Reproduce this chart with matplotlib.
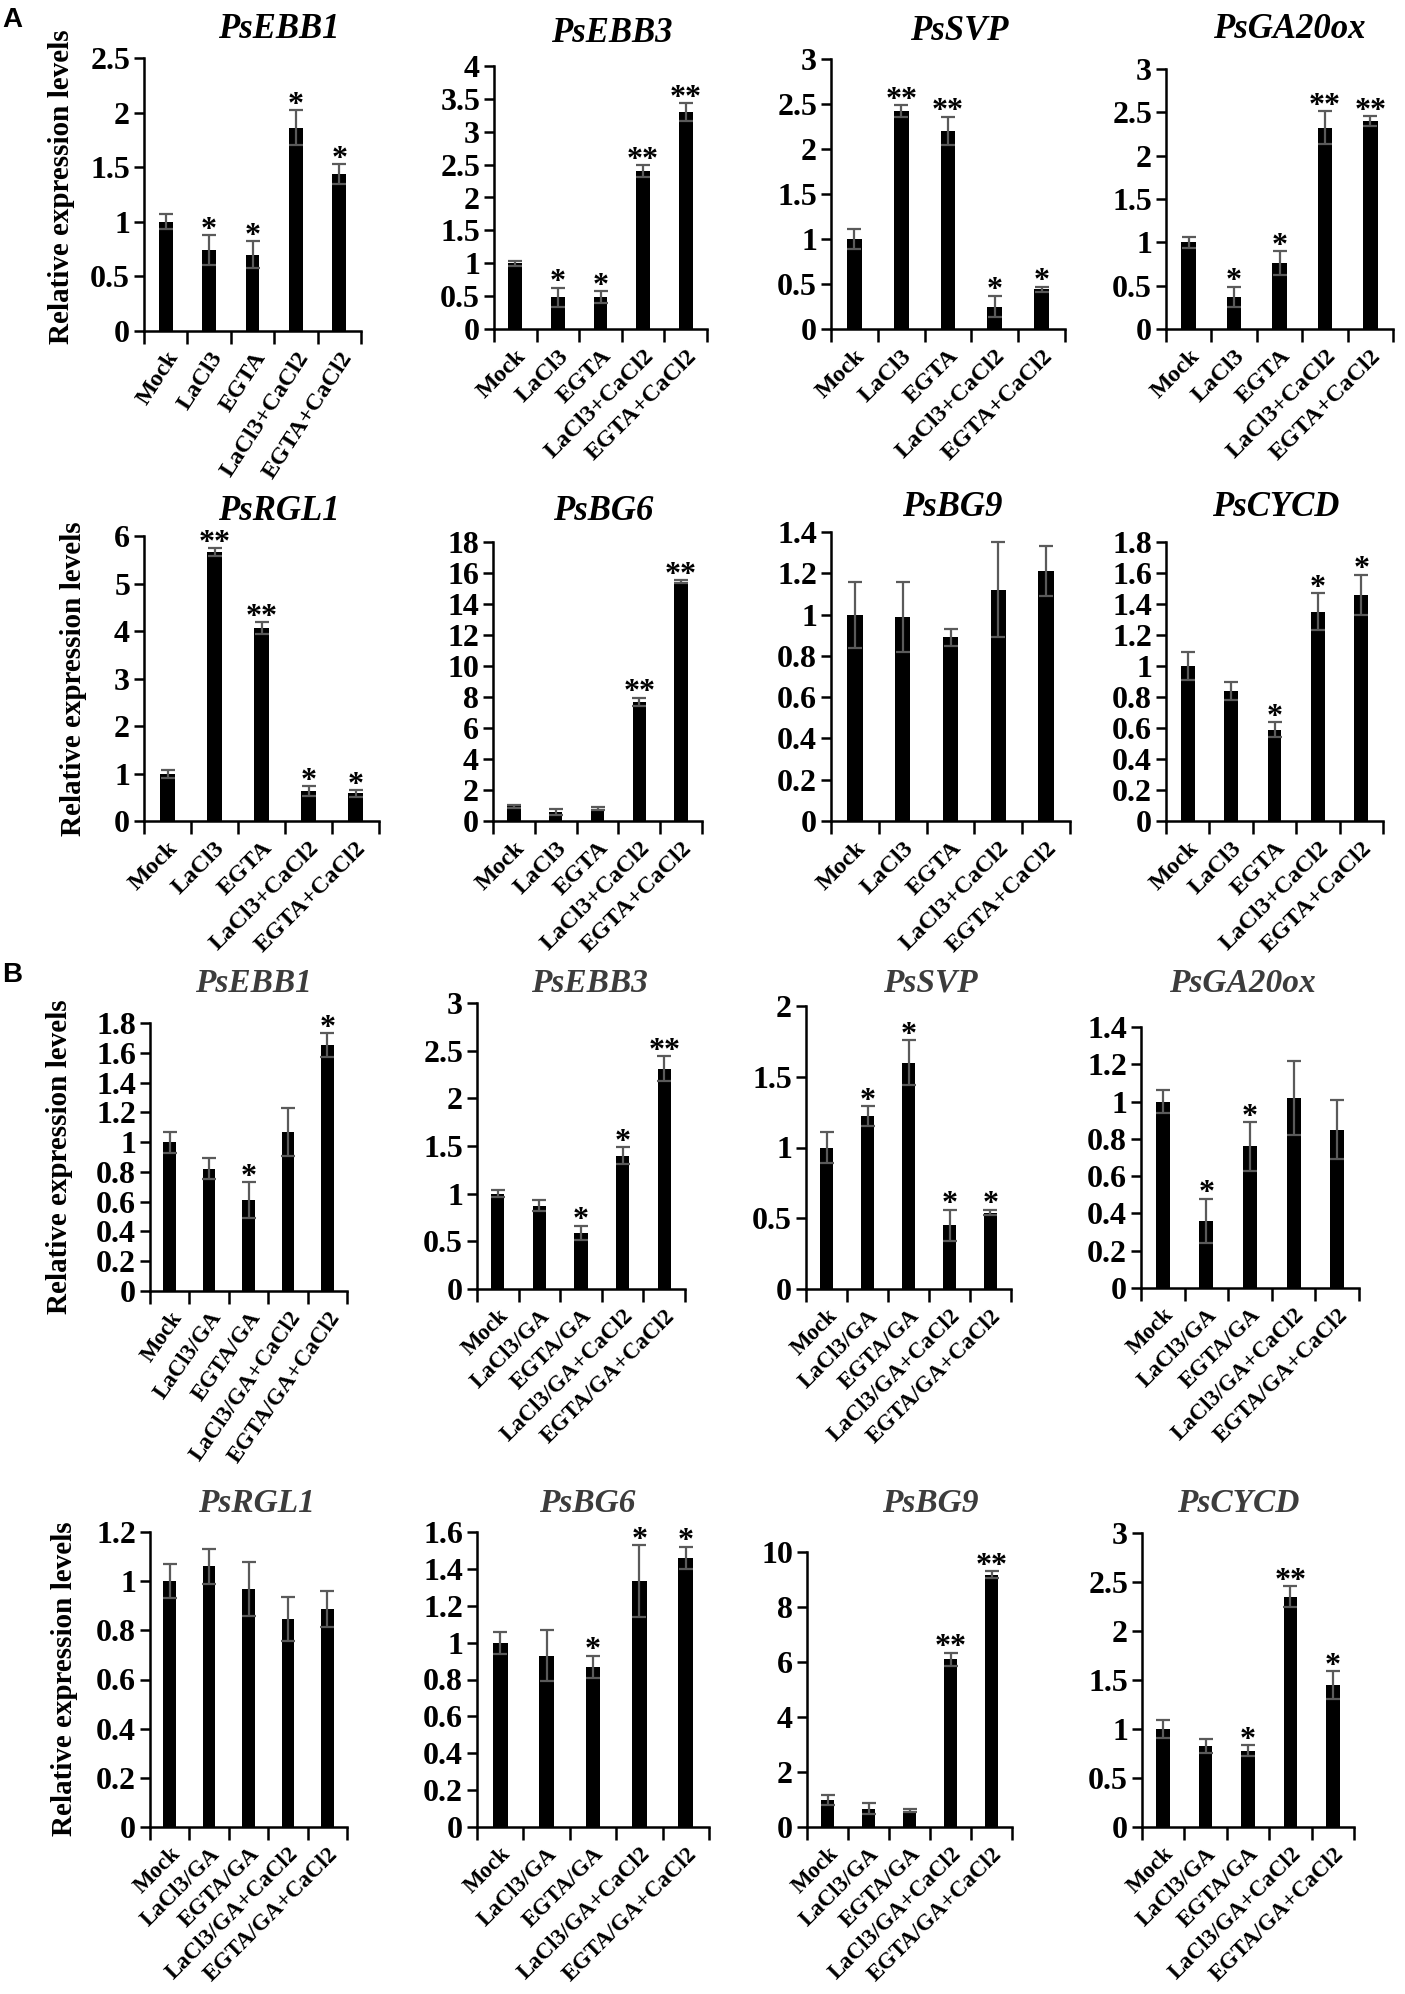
import numpy as np
import matplotlib

matplotlib.use("Agg")
import matplotlib.pyplot as plt

plt.rcParams["font.family"] = ["Liberation Serif", "DejaVu Serif"]
plt.rcParams["font.weight"] = "bold"

GENES = ["PsEBB1", "PsEBB3", "PsSVP", "PsGA20ox", "PsRGL1", "PsBG6", "PsBG9", "PsCYCD"]
A_LABELS = ["Mock", "LaCl3", "EGTA", "LaCl3+CaCl2", "EGTA+CaCl2"]
B_LABELS = ["Mock", "LaCl3/GA", "EGTA/GA", "LaCl3/GA+CaCl2", "EGTA/GA+CaCl2"]

# panel A: Ca2+ blockers
A_MEANS = [
    [1.00, 0.74, 0.70, 1.86, 1.44],
    [1.00, 0.48, 0.49, 2.40, 3.30],
    [1.00, 2.42, 2.20, 0.25, 0.44],
    [1.00, 0.37, 0.76, 2.32, 2.40],
    [0.99, 5.66, 4.06, 0.63, 0.58],
    [0.95, 0.58, 0.80, 7.70, 15.45],
    [1.00, 0.99, 0.89, 1.12, 1.21],
    [1.00, 0.84, 0.59, 1.35, 1.46],
]
A_ERRS = [
    [0.07, 0.14, 0.12, 0.16, 0.09],
    [0.04, 0.15, 0.09, 0.09, 0.14],
    [0.11, 0.07, 0.16, 0.12, 0.03],
    [0.06, 0.12, 0.14, 0.19, 0.06],
    [0.08, 0.09, 0.12, 0.11, 0.07],
    [0.10, 0.22, 0.10, 0.25, 0.10],
    [0.16, 0.17, 0.04, 0.23, 0.12],
    [0.09, 0.06, 0.05, 0.12, 0.13],
]
A_STARS = [
    ["", "*", "*", "*", "*"],
    ["", "*", "*", "**", "**"],
    ["", "**", "**", "*", "*"],
    ["", "*", "*", "**", "**"],
    ["", "**", "**", "*", "*"],
    ["", "", "", "**", "**"],
    ["", "", "", "", ""],
    ["", "", "*", "*", "*"],
]
A_YMAX = [2.5, 4, 3, 3, 6, 18, 1.4, 1.8]
A_YSTEP = [0.5, 0.5, 0.5, 0.5, 1, 2, 0.2, 0.2]

# panel B: Ca2+ blockers with GA
B_MEANS = [
    [1.00, 0.82, 0.61, 1.07, 1.65],
    [1.00, 0.875, 0.59, 1.40, 2.31],
    [1.00, 1.22, 1.60, 0.45, 0.54],
    [1.00, 0.36, 0.76, 1.02, 0.85],
    [1.00, 1.06, 0.97, 0.845, 0.886],
    [1.00, 0.93, 0.87, 1.335, 1.46],
    [0.99, 0.67, 0.60, 6.10, 9.18],
    [1.00, 0.83, 0.78, 2.35, 1.45],
]
B_ERRS = [
    [0.07, 0.07, 0.12, 0.16, 0.08],
    [0.04, 0.055, 0.075, 0.09, 0.13],
    [0.11, 0.07, 0.16, 0.11, 0.02],
    [0.06, 0.12, 0.13, 0.20, 0.16],
    [0.07, 0.07, 0.11, 0.09, 0.072],
    [0.06, 0.14, 0.06, 0.195, 0.06],
    [0.19, 0.20, 0.04, 0.24, 0.13],
    [0.09, 0.07, 0.055, 0.11, 0.14],
]
B_STARS = [
    ["", "", "*", "", "*"],
    ["", "", "*", "*", "**"],
    ["", "*", "*", "*", "*"],
    ["", "*", "*", "", ""],
    ["", "", "", "", ""],
    ["", "", "*", "*", "*"],
    ["", "", "", "**", "**"],
    ["", "", "*", "**", "*"],
]
B_YMAX = [1.8, 3, 2, 1.4, 1.2, 1.6, 10, 3]
B_YSTEP = [0.2, 0.5, 0.5, 0.2, 0.2, 0.2, 2, 0.5]

W, H = 1405, 1994

# axes boxes in pixels: left, top, right, zero line
A_BOX = [
    (144, 58, 361, 331), (494, 66, 707, 329), (831, 59, 1065, 329), (1166, 69, 1393, 329),
    (144, 536, 379, 821), (493, 542, 702, 821), (831, 532, 1070, 821), (1166, 542, 1383, 821),
]
B_BOX = [
    (150, 1023, 347, 1291), (477, 1003, 685, 1289), (806, 1006, 1011, 1289), (1141, 1027, 1359, 1288),
    (150, 1532, 347, 1827), (477, 1532, 709, 1827), (807, 1552, 1012, 1827), (1142, 1533, 1354, 1827),
]
A_TITLE_XY = [(279, 30), (612, 33), (959, 32), (1289, 30),
              (279, 512), (603, 512), (952, 508), (1276, 508)]
B_TITLE_XY = [(253, 983), (589, 983), (930, 983), (1242, 983),
              (256, 1503), (587, 1503), (930, 1503), (1238, 1503)]


def fx(px):
    return px / W


def fy(py):
    return 1 - py / H


def panel(fig, box, means, errs, stars, ymax, ystep, labels, rot, xsize):
    l, t, r, z = box
    ax = fig.add_axes([fx(l), fy(z), (r - l) / W, (z - t) / H])
    x = np.arange(len(means))
    ax.bar(x, means, width=0.32, color="black", zorder=2)
    ax.errorbar(x, means, yerr=errs, fmt="none", ecolor="#5a5a5a",
                elinewidth=1.6, capsize=5, capthick=1.6, zorder=3)
    for xi, m, e, s in zip(x, means, errs, stars):
        if s:
            ax.annotate(s, (xi, m + e), xytext=(0, -7), textcoords="offset points",
                        ha="center", va="bottom", fontsize=23, fontweight="bold")
    ax.set_xlim(-0.5, len(means) - 0.5)
    ax.set_ylim(0, ymax)
    ticks = np.arange(0, ymax + ystep / 2, ystep)
    ax.set_yticks(ticks)
    ax.set_yticklabels([f"{v:g}" for v in ticks])
    ax.set_xticks(np.arange(-0.5, len(means)))
    ax.set_xticklabels([])
    ax.set_xticks(x, minor=True)
    ax.set_xticklabels(labels, minor=True, rotation=rot, ha="right",
                       rotation_mode="anchor", fontsize=xsize, fontweight="bold")
    ax.tick_params(axis="x", which="minor", length=0, pad=12)
    ax.tick_params(axis="x", which="major", length=9, width=1.8, direction="out")
    ax.tick_params(axis="y", length=7, width=1.8, direction="out", labelsize=23, pad=3)
    for sp in ("top", "right"):
        ax.spines[sp].set_visible(False)
    for sp in ("left", "bottom"):
        ax.spines[sp].set_linewidth(1.8)
    return ax


fig = plt.figure(figsize=(W / 100, H / 100), dpi=100)

for i, gene in enumerate(GENES):
    rot = 57 if i == 0 else 45
    panel(fig, A_BOX[i], A_MEANS[i], A_ERRS[i], A_STARS[i], A_YMAX[i], A_YSTEP[i],
          A_LABELS, rot, 17.5)
    tx, ty = A_TITLE_XY[i]
    fig.text(fx(tx), fy(ty), gene, ha="center", va="center", fontsize=25,
             fontweight="bold", style="italic")

for i, gene in enumerate(GENES):
    rot = 55 if i == 0 else 45
    panel(fig, B_BOX[i], B_MEANS[i], B_ERRS[i], B_STARS[i], B_YMAX[i], B_YSTEP[i],
          B_LABELS, rot, 16.5)
    tx, ty = B_TITLE_XY[i]
    fig.text(fx(tx), fy(ty), gene, ha="center", va="center", fontsize=24,
             fontweight="bold", style="italic", color="#3c3c3c")

# shared y labels
for (px, py) in [(62, 187), (74, 679), (60, 1157), (65, 1679)]:
    fig.text(fx(px), fy(py), "Relative expression levels", rotation=90,
             ha="center", va="center", fontsize=21, fontweight="bold")

for letter, (px, py) in [("A", (12, 20)), ("B", (12, 975))]:
    fig.text(fx(px), fy(py), letter, ha="center", va="center", fontsize=20,
             fontweight="bold", family=["Liberation Sans", "DejaVu Sans"])

fig.savefig("out.png", dpi=100)
